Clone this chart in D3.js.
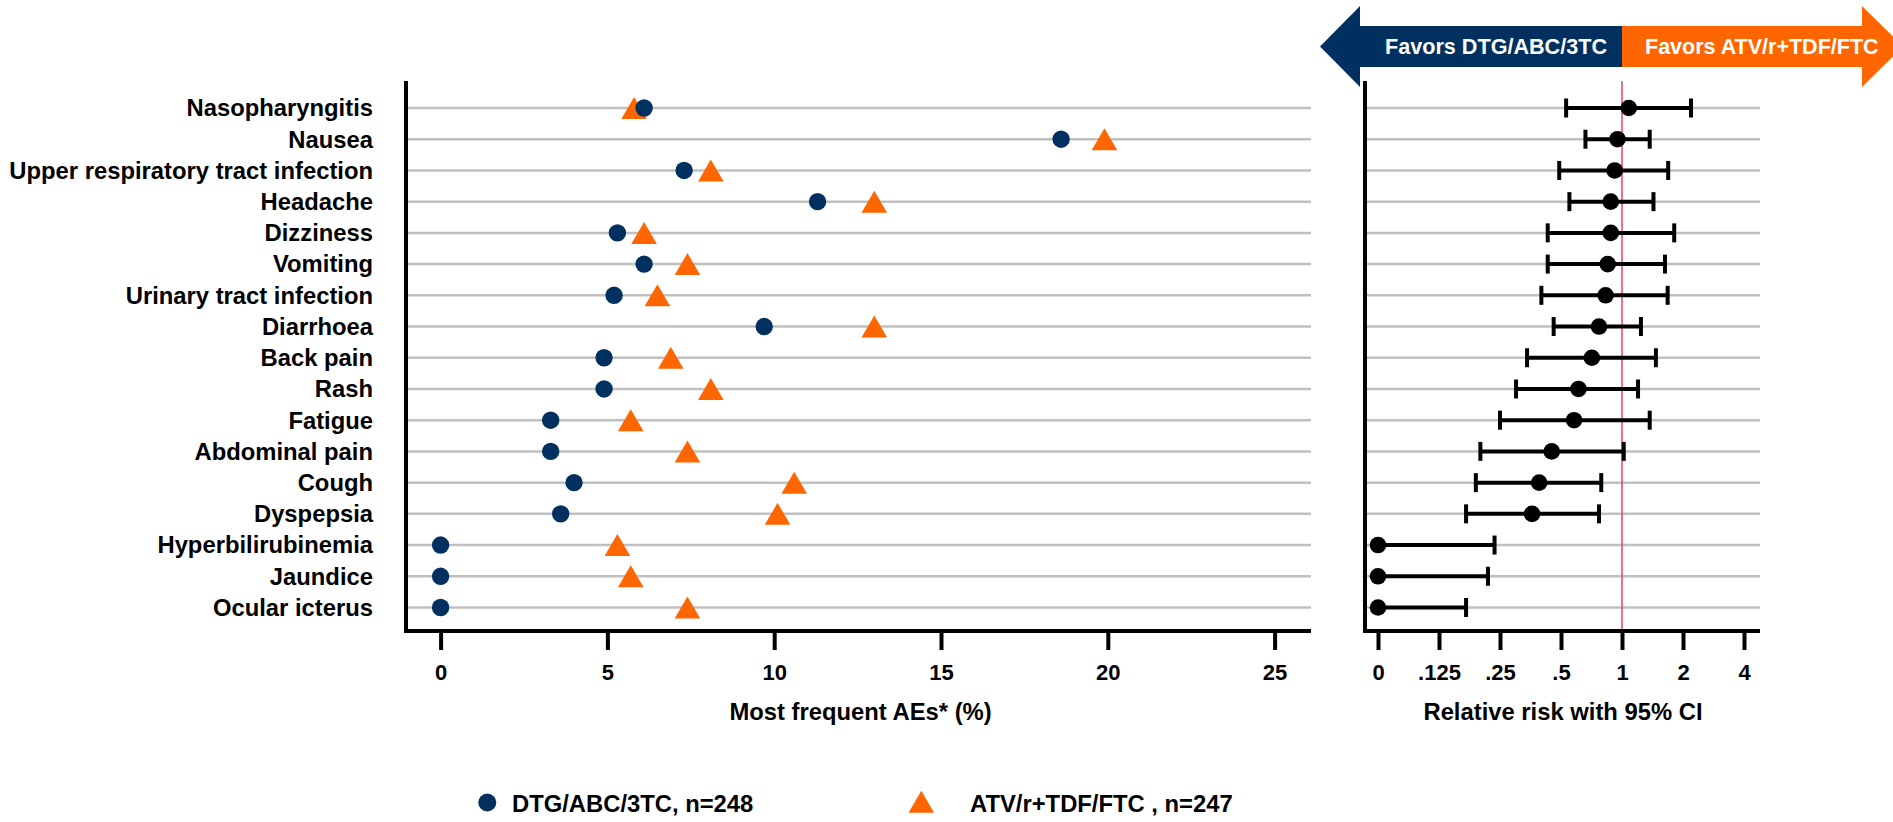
<!DOCTYPE html>
<html lang="en">
<head>
<meta charset="UTF-8" />
<title>Most frequent AEs and relative risk</title>
<script src="https://d3js.org/d3.v7.min.js"></script>
<style>
  body { margin: 0; background: white; }
  svg { display: block; font-family: "Liberation Sans", Arial, sans-serif; font-weight: bold; }
</style>
</head>
<body>
<svg width="1893" height="822"></svg>
<script>
const categories = ["Nasopharyngitis", "Nausea", "Upper respiratory tract infection", "Headache", "Dizziness",
  "Vomiting", "Urinary tract infection", "Diarrhoea", "Back pain", "Rash", "Fatigue", "Abdominal pain",
  "Cough", "Dyspepsia", "Hyperbilirubinemia", "Jaundice", "Ocular icterus"];
const dtgPct = [6.1, 18.6, 7.3, 11.3, 5.3, 6.1, 5.2, 9.7, 4.9, 4.9, 3.3, 3.3, 4.0, 3.6, 0, 0, 0];
const atvPct = [5.8, 19.9, 8.1, 13.0, 6.1, 7.4, 6.5, 13.0, 6.9, 8.1, 5.7, 7.4, 10.6, 10.1, 5.3, 5.7, 7.4];
const rr     = [1.08, 0.95, 0.92, 0.88, 0.88, 0.85, 0.83, 0.77, 0.71, 0.61, 0.58, 0.45, 0.39, 0.36, 0, 0, 0];
const rrLow  = [0.53, 0.66, 0.49, 0.55, 0.43, 0.43, 0.40, 0.46, 0.34, 0.30, 0.25, 0.20, 0.19, 0.17, 0, 0, 0];
const rrHigh = [2.19, 1.37, 1.69, 1.43, 1.81, 1.63, 1.68, 1.24, 1.47, 1.20, 1.37, 1.02, 0.79, 0.77, 0.235, 0.218, 0.17];
const pctTicks = [0, 5, 10, 15, 20, 25];
const rrTicks = [0, 0.125, 0.25, 0.5, 1, 2, 4];
const rrTickLabels = ["0", ".125", ".25", ".5", "1", "2", "4"];
const seriesNames = ["DTG/ABC/3TC, n=248", "ATV/r+TDF/FTC , n=247"];
const favorLabels = ["Favors DTG/ABC/3TC", "Favors ATV/r+TDF/FTC"];

const NAVY = "#00305f", ORANGE = "#ff6600", GRID = "#c0c0c0";
const plotTop = 81, plotBottom = 631;
const left = { axisX: 406, end: 1311 };
const right = { axisX: 1365, end: 1760 };

const svg = d3.select("svg");
const y = d3.scalePoint().domain(categories).range([108, 607.5]);
const xL = d3.scaleLinear().domain([0, 25]).range([440.6, 1274.6]);
const xR = d3.scaleLog().base(2).domain([1 / 16, 4]).range([1378, 1744]);
const rx = v => xR(v > 0 ? v : 1 / 16);   // zero plotted at the "0" slot

const tri = "M0,-11L12.8,11L-12.8,11Z";

// gridlines
[[left.axisX, left.end], [right.axisX, right.end]].forEach(([a, b]) => {
  svg.append("g").selectAll("line").data(categories).join("line")
    .attr("x1", a).attr("x2", b)
    .attr("y1", d => y(d)).attr("y2", d => y(d))
    .attr("stroke", GRID).attr("stroke-width", 2.5);
});

// category labels
svg.append("g").selectAll("text").data(categories).join("text")
  .attr("x", 373).attr("y", d => y(d)).attr("dy", "0.35em")
  .attr("text-anchor", "end").attr("font-size", 23.8).attr("fill", "#000")
  .text(d => d);

// left panel marks: triangles under circles
svg.append("g").selectAll("path").data(categories).join("path")
  .attr("d", tri).attr("fill", ORANGE)
  .attr("transform", (d, i) => `translate(${xL(atvPct[i])},${y(d)})`);
svg.append("g").selectAll("circle").data(categories).join("circle")
  .attr("cx", (d, i) => xL(dtgPct[i])).attr("cy", d => y(d)).attr("r", 8.7)
  .attr("fill", NAVY);

// reference line at RR = 1
svg.append("line")
  .attr("x1", xR(1)).attr("x2", xR(1)).attr("y1", plotTop).attr("y2", plotBottom)
  .attr("stroke", "#f0405f").attr("stroke-width", 1.5);

// forest plot
const ci = svg.append("g").attr("stroke", "#000").attr("stroke-width", 4);
categories.forEach((c, i) => {
  const yy = y(c);
  ci.append("line").attr("x1", rx(rrLow[i])).attr("x2", rx(rrHigh[i])).attr("y1", yy).attr("y2", yy);
  if (rrLow[i] > 0)
    ci.append("line").attr("x1", rx(rrLow[i])).attr("x2", rx(rrLow[i])).attr("y1", yy - 9.5).attr("y2", yy + 9.5);
  ci.append("line").attr("x1", rx(rrHigh[i])).attr("x2", rx(rrHigh[i])).attr("y1", yy - 9.5).attr("y2", yy + 9.5);
});
svg.append("g").selectAll("circle").data(categories).join("circle")
  .attr("cx", (d, i) => rx(rr[i])).attr("cy", d => y(d)).attr("r", 8.3).attr("fill", "#000");

// axes
function styleAxis(g) {
  g.select(".domain").remove();
  g.selectAll(".tick line").attr("stroke", "#000").attr("stroke-width", 4);
  g.selectAll(".tick text").attr("font-size", 22).attr("font-weight", "bold").attr("fill", "#000")
    .attr("font-family", "'Liberation Sans', Arial, sans-serif");
}
svg.append("g").attr("transform", `translate(0,${plotBottom})`)
  .call(d3.axisBottom(xL).tickValues(pctTicks).tickSize(19).tickPadding(14))
  .call(styleAxis);
svg.append("g").attr("transform", `translate(0,${plotBottom})`)
  .call(d3.axisBottom(xR).tickValues(rrTicks.map(v => v || 1 / 16)).tickSize(19).tickPadding(14)
    .tickFormat((d, i) => rrTickLabels[i]))
  .call(styleAxis);

// axis frames
const frame = svg.append("g").attr("stroke", "#000").attr("stroke-width", 4).attr("fill", "none");
frame.append("path").attr("d", `M${left.axisX},${plotTop}V${plotBottom}H${left.end}`);
frame.append("path").attr("d", `M${right.axisX},${plotTop}V${plotBottom}H${right.end}`);

// axis titles
svg.append("text").attr("x", (xL(0) + xL(25)) / 2 + 3).attr("y", 720).attr("text-anchor", "middle")
  .attr("font-size", 23.8).text("Most frequent AEs* (%)");
svg.append("text").attr("x", 1563).attr("y", 720).attr("text-anchor", "middle")
  .attr("font-size", 23.8).text("Relative risk with 95% CI");

// favours banner
const mid = xR(1), bTop = 26, bBot = 67, hTop = 6, hBot = 87, cy = 46.5;
svg.append("path").attr("fill", NAVY)
  .attr("d", `M1320,${cy}L1360,${hTop}V${bTop}H${mid}V${bBot}H1360V${hBot}Z`);
svg.append("path").attr("fill", ORANGE)
  .attr("d", `M${mid},${bTop}H1862V${hTop}L1903,${cy}L1862,${hBot}V${bBot}H${mid}Z`);
svg.append("text").attr("x", mid - 15).attr("y", 53.5).attr("text-anchor", "end")
  .attr("fill", "#fff").attr("font-size", 21.6).text(favorLabels[0]);
svg.append("text").attr("x", mid + 23).attr("y", 53.5)
  .attr("fill", "#fff").attr("font-size", 21.5).text(favorLabels[1]);

// legend
const lg = svg.append("g");
lg.append("circle").attr("cx", 487.3).attr("cy", 802.5).attr("r", 9).attr("fill", NAVY);
lg.append("text").attr("x", 512).attr("y", 812).attr("font-size", 23.8).text(seriesNames[0]);
lg.append("path").attr("d", tri).attr("fill", ORANGE).attr("transform", "translate(921.3,801.7)");
lg.append("text").attr("x", 970).attr("y", 812).attr("font-size", 23.8).text(seriesNames[1]);
</script>
</body>
</html>
